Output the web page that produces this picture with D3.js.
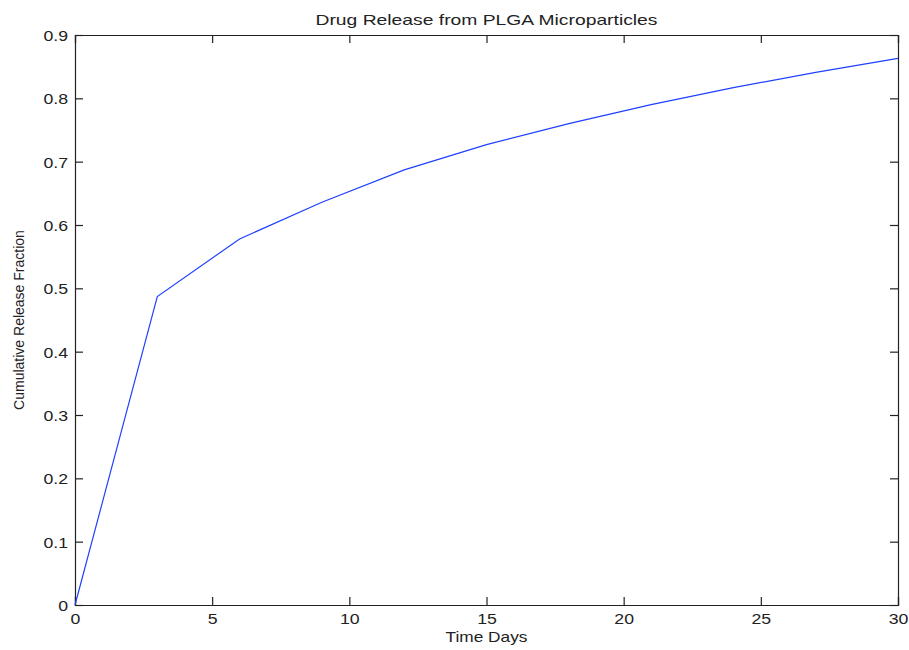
<!DOCTYPE html>
<html>
<head>
<meta charset="utf-8">
<script src="https://cdn.jsdelivr.net/npm/d3@7"></script>
<style>
  html, body { margin: 0; padding: 0; background: #fff; }
  svg { display: block; }
  text { font-family: "Liberation Sans", Arial, Helvetica, sans-serif; fill: #222; }
</style>
</head>
<body>
<svg id="chart" width="909" height="650"></svg>
<script>
// Cumulative release measured every 3 days
const days = [0, 3, 6, 9, 12, 15, 18, 21, 24, 27, 30];
const releaseFraction = [0, 0.487, 0.578, 0.636, 0.687, 0.727, 0.760, 0.790, 0.817, 0.841, 0.863];
const xTicks = [0, 5, 10, 15, 20, 25, 30];
const yTicks = [0, 0.1, 0.2, 0.3, 0.4, 0.5, 0.6, 0.7, 0.8, 0.9];
const titleText = "Drug Release from PLGA Microparticles";
const xLabelText = "Time Days";
const yLabelText = "Cumulative Release Fraction";

const svg = d3.select("#chart");
const plot = { left: 75, top: 35, right: 898, bottom: 605 };

const x = d3.scaleLinear().domain([0, 30]).range([plot.left, plot.right]);
const y = d3.scaleLinear().domain([0, 0.9]).range([plot.bottom, plot.top]);

const axisColor = "#222";
const tickLen = 8;

// widen glyph runs a little, like the wide screen font of the original plot tool
function stretch(sel, k) {
  sel.each(function () {
    const w = this.getComputedTextLength();
    d3.select(this).attr("textLength", w * k).attr("lengthAdjust", "spacingAndGlyphs");
  });
}

const fmtY = v => (v === 0 ? "0" : d3.format(".1f")(v));

// bottom axis with inward ticks
const xAxisBottom = d3.axisBottom(x).tickValues(xTicks).tickSize(-tickLen).tickPadding(10).tickFormat(d3.format("d"));
const gxb = svg.append("g").attr("transform", `translate(0,${plot.bottom})`).call(xAxisBottom);
// top axis ticks (no labels)
const gxt = svg.append("g").attr("transform", `translate(0,${plot.top})`)
  .call(d3.axisTop(x).tickValues(xTicks).tickSize(-tickLen).tickFormat(""));
// left axis
const gyl = svg.append("g").attr("transform", `translate(${plot.left},0)`)
  .call(d3.axisLeft(y).tickValues(yTicks).tickSize(-tickLen).tickPadding(7).tickFormat(fmtY));
// right axis ticks
const gyr = svg.append("g").attr("transform", `translate(${plot.right},0)`)
  .call(d3.axisRight(y).tickValues(yTicks).tickSize(-tickLen).tickFormat(""));

[gxb, gxt, gyl, gyr].forEach(g => {
  g.select(".domain").attr("stroke", axisColor).attr("stroke-width", 1.2);
  g.selectAll(".tick line").attr("stroke", axisColor).attr("stroke-width", 1.2);
  g.selectAll(".tick text").attr("fill", "#222")
    .style("font-family", '"Liberation Sans", Arial, sans-serif').style("font-size", "15px");
});
gxb.selectAll(".tick text").attr("dy", "0.71em").attr("y", 8);
gyl.selectAll(".tick text").attr("x", -7).attr("dy", "0.36em");
stretch(gxb.selectAll(".tick text"), 1.18);
stretch(gyl.selectAll(".tick text"), 1.18);

// release curve
const line = d3.line().x((d, i) => x(days[i])).y(d => y(d));
svg.append("path")
  .datum(releaseFraction)
  .attr("fill", "none")
  .attr("stroke", "#2040ff")
  .attr("stroke-width", 1.2)
  .attr("d", line);

// title and axis labels
const title = svg.append("text")
  .attr("x", (plot.left + plot.right) / 2).attr("y", 25)
  .attr("text-anchor", "middle").style("font-size", "15px").text(titleText);
title.attr("textLength", 342).attr("lengthAdjust", "spacingAndGlyphs");

const xl = svg.append("text")
  .attr("x", (plot.left + plot.right) / 2).attr("y", 642)
  .attr("text-anchor", "middle").style("font-size", "15px").text(xLabelText);
stretch(xl, 1.15);

const yl = svg.append("text")
  .attr("transform", `translate(24,${(plot.top + plot.bottom) / 2}) rotate(-90)`)
  .attr("text-anchor", "middle").style("font-size", "14px").text(yLabelText);
</script>
</body>
</html>
